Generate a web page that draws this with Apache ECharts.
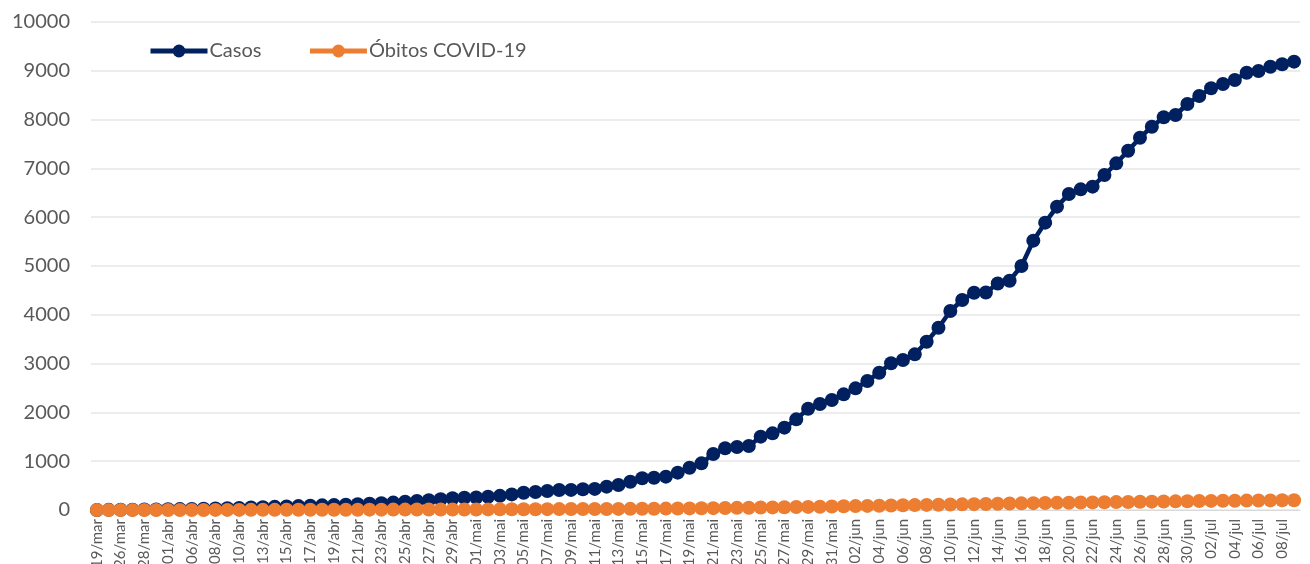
<!DOCTYPE html>
<html>
<head>
<meta charset="utf-8">
<script src="https://cdn.jsdelivr.net/npm/echarts@6/dist/echarts.min.js"></script>
<style>
html,body{margin:0;padding:0;background:#fff;}
#chart{width:1310px;height:564px;}
</style>
</head>
<body>
<div id="chart"></div>
<script>
const categories = [
"19/mar","25/mar","26/mar","27/mar","28/mar","31/mar","01/abr","03/abr","06/abr","07/abr",
"08/abr","09/abr","10/abr","12/abr","13/abr","14/abr","15/abr","16/abr","17/abr","18/abr",
"19/abr","20/abr","21/abr","22/abr","23/abr","24/abr","25/abr","26/abr","27/abr","28/abr",
"29/abr","30/abr","01/mai","02/mai","03/mai","04/mai","05/mai","06/mai","07/mai","08/mai",
"09/mai","10/mai","11/mai","12/mai","13/mai","14/mai","15/mai","16/mai","17/mai","18/mai",
"19/mai","20/mai","21/mai","22/mai","23/mai","24/mai","25/mai","26/mai","27/mai","28/mai",
"29/mai","30/mai","31/mai","01/jun","02/jun","03/jun","04/jun","05/jun","06/jun","07/jun",
"08/jun","09/jun","10/jun","11/jun","12/jun","13/jun","14/jun","15/jun","16/jun","17/jun",
"18/jun","19/jun","20/jun","21/jun","22/jun","23/jun","24/jun","25/jun","26/jun","27/jun",
"28/jun","29/jun","30/jun","01/jul","02/jul","03/jul","04/jul","05/jul","06/jul","07/jul",
"08/jul","09/jul"
];
const casos = [
1,3,5,7,9,12,15,18,22,26,
30,35,42,50,58,65,72,80,88,95,
100,108,118,128,140,152,170,185,200,220,
240,250,257,273,290,320,355,370,390,410,
412,424,432,478,512,580,650,662,683,765,
867,956,1148,1264,1290,1310,1503,1571,1687,1858,
2076,2172,2254,2370,2493,2643,2814,3006,3074,3190,
3449,3736,4078,4303,4453,4458,4640,4699,5000,5519,
5888,6216,6475,6571,6626,6865,7104,7363,7629,7855,
8047,8094,8320,8484,8641,8730,8811,8961,8996,9084,
9133,9187
];
const obitos = [
0,0,0,0,0,1,1,1,1,1,
2,2,2,3,3,3,4,4,5,5,
5,6,6,7,7,8,8,9,9,10,
10,11,11,12,13,14,15,16,17,18,
19,20,21,22,23,24,25,27,29,31,
33,35,38,41,44,47,50,53,56,60,
64,68,72,76,80,84,88,92,96,100,
104,108,112,116,120,124,128,132,136,140,
144,147,150,153,156,159,162,165,168,171,
174,177,180,183,186,189,191,193,195,197,
199,201
];
const seriesNames = ["Casos", "Óbitos COVID-19"];
const yTicks = {min: 0, max: 10000, interval: 1000};

const chart = echarts.init(document.getElementById('chart'), null, {renderer: 'canvas'});
const font = 'Lato, "Liberation Sans", sans-serif';
chart.setOption({
  animation: false,
  backgroundColor: '#ffffff',
  textStyle: {fontFamily: font},
  grid: {left: 91, right: 10, top: 22, bottom: 54, containLabel: false, outerBoundsMode: 'none'},
  legend: {
    left: 143, top: 36,
    itemWidth: 57, itemHeight: 16, itemGap: 46,
    lineStyle: {width: 5},
    textStyle: {fontSize: 20, color: '#595959', fontFamily: font, padding: [0,0,0,-3]},
    data: seriesNames
  },
  xAxis: {
    type: 'category',
    data: categories,
    boundaryGap: true,
    axisLine: {show: true, lineStyle: {color: '#d9d9d9', width: 1}},
    axisTick: {show: false},
    axisLabel: {interval: 1, rotate: 90, fontSize: 15, color: '#595959', margin: 9, fontFamily: font}
  },
  yAxis: {
    type: 'value',
    min: yTicks.min, max: yTicks.max, interval: yTicks.interval,
    axisLine: {show: false},
    axisTick: {show: false},
    axisLabel: {fontSize: 20, color: '#595959', margin: 21, fontFamily: font,
      formatter: function (v) { return String(v); }},
    splitLine: {lineStyle: {color: '#e6e6e6', width: 1.5}}
  },
  series: [
    {
      name: seriesNames[0], type: 'line', data: casos,
      symbol: 'circle', symbolSize: 14, showAllSymbol: true,
      lineStyle: {color: '#002060', width: 4.5},
      itemStyle: {color: '#002060'}
    },
    {
      name: seriesNames[1], type: 'line', data: obitos,
      symbol: 'circle', symbolSize: 14, showAllSymbol: true,
      lineStyle: {color: '#ED7D31', width: 4.5},
      itemStyle: {color: '#ED7D31'}
    }
  ]
});
</script>
</body>
</html>
